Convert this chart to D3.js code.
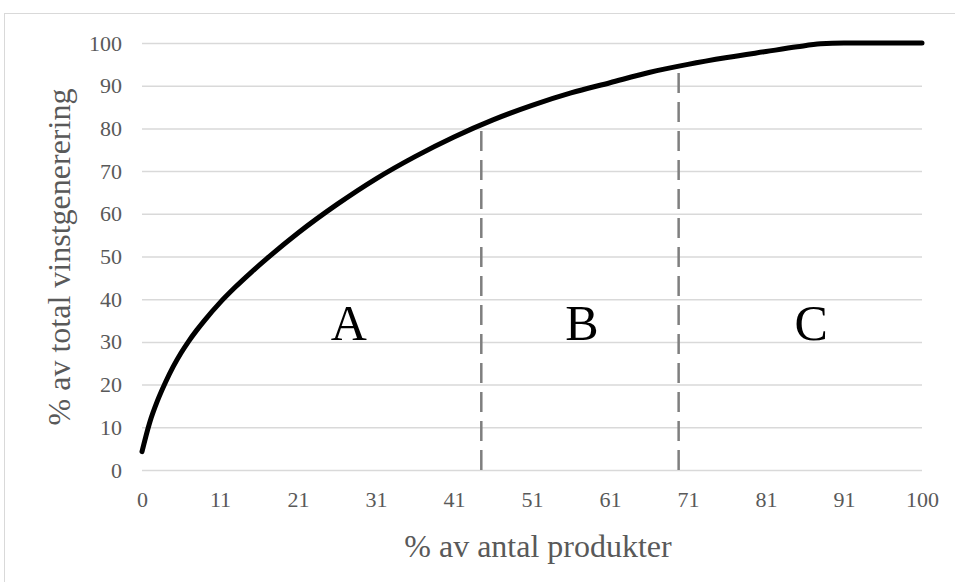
<!DOCTYPE html>
<html>
<head>
<meta charset="utf-8">
<script src="https://cdn.jsdelivr.net/npm/d3@7"></script>
<style>
  html, body { margin: 0; padding: 0; background: #fff; }
  svg { display: block; }
</style>
</head>
<body>
<svg id="chart" width="955" height="582"></svg>
<script>
// ---- data ----
const xPositions = [0, 1, 2, 3, 4, 5, 6, 7, 8, 10, 12, 14, 16, 20, 25, 30, 35, 40, 45, 50, 55, 60, 65, 70, 75, 80, 84, 87, 90, 100];
const yValues    = [4.3, 11.2, 16.3, 20.5, 24.2, 27.4, 30.2, 32.7, 35.0, 39.2, 42.9, 46.3, 49.5, 55.5, 62.2, 68.2, 73.4, 78.0, 82.0, 85.4, 88.3, 90.7, 93.1, 95.0, 96.6, 98.0, 99.1, 99.8, 100, 100];
const xTickPositions = [0, 10, 20, 30, 40, 50, 60, 70, 80, 90, 100];
const xTickLabels    = ["0", "11", "21", "31", "41", "51", "61", "71", "81", "91", "100"];
const yTicks = [0, 10, 20, 30, 40, 50, 60, 70, 80, 90, 100];
const dividers = [43.5, 68.8];
const zoneLabels = ["A", "B", "C"];
const zoneCenters = [26.5, 56.4, 85.8];
const zoneLabelValue = 30.4;
const xTitle = "% av antal produkter";
const yTitle = "% av total vinstgenerering";

// ---- layout ----
const svg = d3.select("#chart");
const mLeft = 142, mRight = 922, mTop = 43, mBottom = 470;
const x = d3.scaleLinear().domain([0, 100]).range([mLeft, mRight]);
const y = d3.scaleLinear().domain([0, 100]).range([mBottom, mTop]);
const font = "'Liberation Serif', 'Times New Roman', serif";

// outer border
svg.append("rect")
  .attr("x", 4.5).attr("y", 13.5).attr("width", 970).attr("height", 600)
  .attr("fill", "none").attr("stroke", "#d9d9d9").attr("stroke-width", 1);

// gridlines + y labels
const yAxis = d3.axisLeft(y).tickValues(yTicks).tickSize(-(mRight - mLeft)).tickPadding(20);
const gy = svg.append("g").attr("transform", `translate(${mLeft},0)`).call(yAxis);
gy.select(".domain").remove();
gy.selectAll(".tick line").attr("stroke", "#d9d9d9").attr("stroke-width", 1.5);
gy.selectAll(".tick text")
  .attr("font-family", font).attr("font-size", 22).attr("fill", "#595959");

// x axis labels
const xAxis = d3.axisBottom(x).tickValues(xTickPositions)
  .tickFormat((d, i) => xTickLabels[i]).tickSize(0).tickPadding(21);
const gx = svg.append("g").attr("transform", `translate(0,${mBottom})`).call(xAxis);
gx.select(".domain").remove();
gx.selectAll(".tick text")
  .attr("font-family", font).attr("font-size", 22).attr("fill", "#595959");

// curve generator
const pts = xPositions.map((p, i) => [p, yValues[i]]);
const lineGen = d3.line().x(d => x(d[0])).y(d => y(d[1])).curve(d3.curveMonotoneX);
const pathTmp = svg.append("path").attr("d", lineGen(pts)).attr("fill", "none").attr("stroke", "none");
function curveYAt(px) {
  const node = pathTmp.node();
  const L = node.getTotalLength();
  let lo = 0, hi = L;
  for (let k = 0; k < 40; k++) {
    const mid = (lo + hi) / 2;
    if (node.getPointAtLength(mid).x < px) lo = mid; else hi = mid;
  }
  return node.getPointAtLength(lo).y;
}

// divider dashed lines
svg.selectAll("line.divider").data(dividers).enter().append("line")
  .attr("class", "divider")
  .attr("x1", d => x(d)).attr("x2", d => x(d))
  .attr("y1", mBottom).attr("y2", d => curveYAt(x(d)))
  .attr("stroke", "#7f7f7f").attr("stroke-width", 2.5)
  .attr("stroke-dasharray", "20,9");

// curve
svg.append("path").attr("d", lineGen(pts))
  .attr("fill", "none").attr("stroke", "#000").attr("stroke-width", 5)
  .attr("stroke-linecap", "round").attr("stroke-linejoin", "round");

// zone labels
svg.selectAll("text.zone").data(zoneLabels).enter().append("text")
  .attr("class", "zone")
  .attr("x", (d, i) => x(zoneCenters[i])).attr("y", y(zoneLabelValue))
  .attr("text-anchor", "middle")
  .attr("font-family", font).attr("font-size", 50).attr("fill", "#000")
  .text(d => d);

// axis titles
svg.append("text").attr("x", 538).attr("y", 557).attr("text-anchor", "middle")
  .attr("font-family", font).attr("font-size", 32).attr("fill", "#595959").text(xTitle);
svg.append("text").attr("transform", "translate(70,257) rotate(-90)").attr("text-anchor", "middle")
  .attr("font-family", font).attr("font-size", 32).attr("fill", "#595959").text(yTitle);
</script>
</body>
</html>
